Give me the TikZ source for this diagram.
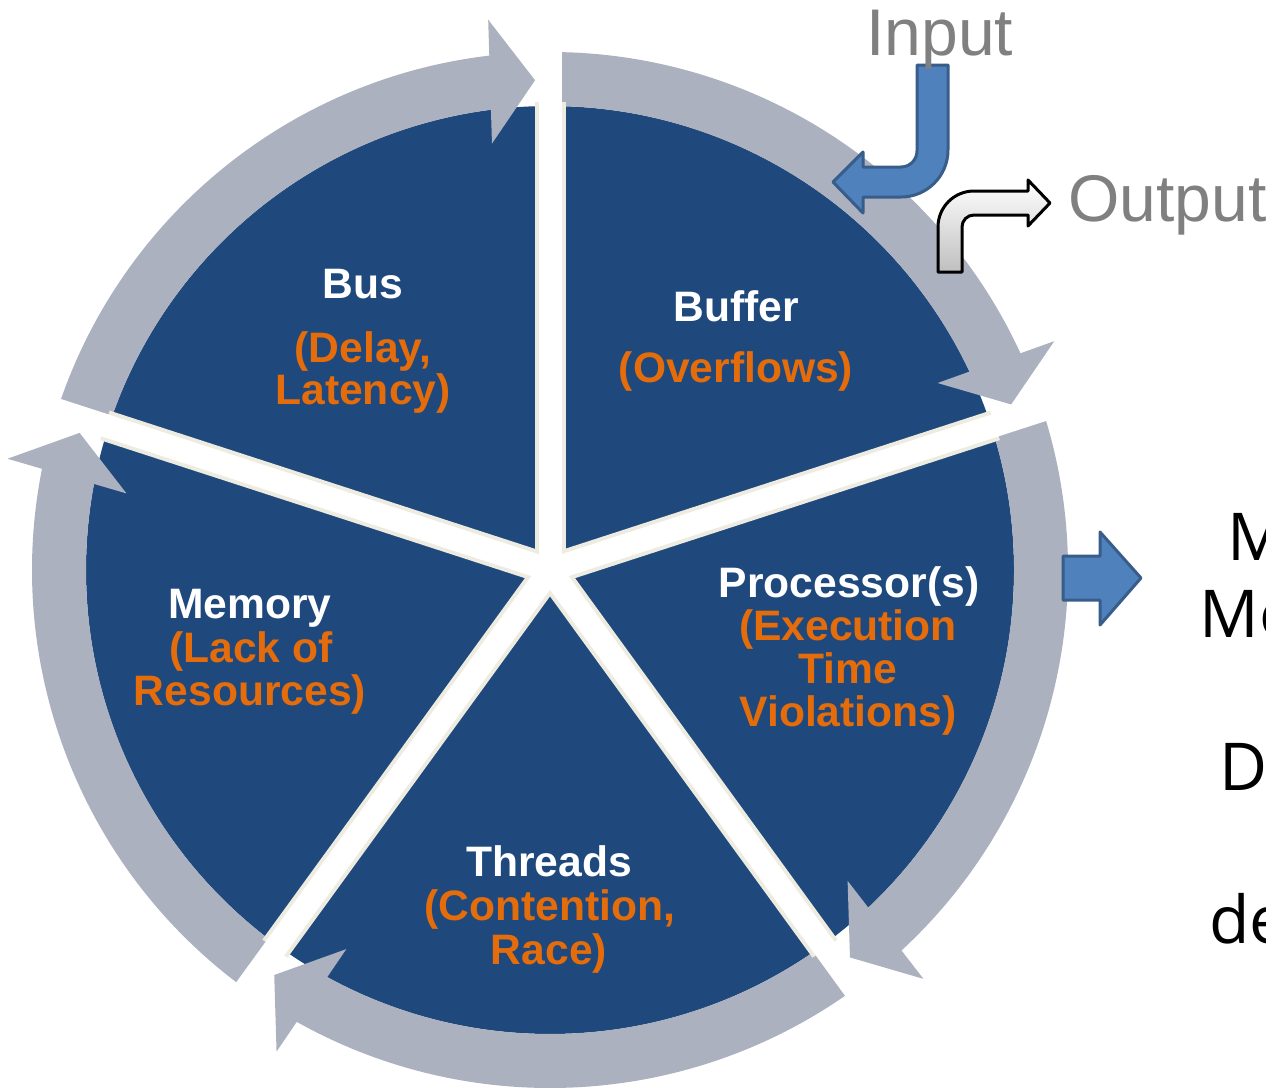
\documentclass[tikz,border=0pt]{standalone}
\usepackage{fontspec}
\setmainfont{Liberation Sans}
\newfontfamily\sidefont{Open Sans}
\definecolor{secblue}{HTML}{1F497D}
\definecolor{ringgray}{HTML}{ACB1C0}
\definecolor{gapbeige}{HTML}{EEECE1}
\definecolor{accent}{HTML}{E46C0A}
\definecolor{labelgray}{HTML}{808080}
\definecolor{arrowblue}{HTML}{4F81BD}
\definecolor{arrowedge}{HTML}{385D8A}
\tikzset{
  ringfill/.style={fill=ringgray},
  ttl/.style={text=white, font=\fontsize{21.3}{22}\selectfont\bfseries, anchor=base, inner sep=0pt},
  sub/.style={text=accent, font=\fontsize{21.3}{22}\selectfont\bfseries, anchor=base, inner sep=0pt},
  iolabel/.style={text=labelgray, font=\fontsize{33}{36}\selectfont, anchor=base west, inner sep=0pt},
  sidetext/.style={text=black, font=\sidefont\fontsize{33}{36}\selectfont, anchor=base west, inner sep=0pt},
  bluearrow/.style={fill=arrowblue, draw=arrowedge, line width=1.5pt, line join=round},
}
\begin{document}
\begin{tikzpicture}[x=0.5pt, y=-0.5pt]
\useasboundingbox (0,0) rectangle (1266,1088);

% pie of five sectors with the clockwise ring arrows
\begin{scope}[shift={(550,570)}, yscale=-1]
  \coordinate (c) at (0,0);
  \fill[secblue] (c) circle (464);
  \foreach \a/\t in {162/91.75, 90/19.75, 18/-52.25, -54/-124.25, 234/163.75} {
    \fill[ringfill] (\a:464) arc[start angle=\a, end angle=\t+3, radius=464]
      -- (\t+3:518) arc[start angle=\t+3, end angle=\a, radius=518] -- cycle;
    \fill[ringfill] (\t:490) -- (\t+6.0:430.4) -- (\t+4.66:553.8) -- cycle;
  }
  \foreach \g in {90,18,-54,-126,162}
    \draw[gapbeige, line width=15.5pt] (c) -- (\g:468);
  \foreach \g in {90,18,-54,-126,162}
    \draw[white, line width=11.5pt] (c) -- (\g:640);
\end{scope}

% sector labels
\node[ttl] (busT) at (363,298) {Bus};
\node[sub] (busS1) at (363,362) {(Delay,};
\node[sub] (busS2) at (363,404) {Latency)};
\node[ttl] (bufT) at (736,321) {Buffer};
\node[sub] (bufS) at (736,382) {(Overflows)};
\node[ttl] (procT) at (849,597) {Processor(s)};
\node[sub] (procS1) at (848,640) {(Execution};
\node[sub] (procS2) at (848,683) {Time};
\node[sub] (procS3) at (848,726) {Violations)};
\node[ttl] (memT) at (250,618) {Memory};
\node[sub] (memS1) at (251,662) {(Lack of};
\node[sub] (memS2) at (250,705) {Resources)};
\node[ttl] (thrT) at (549,876) {Threads};
\node[sub] (thrS1) at (550,920) {(Contention,};
\node[sub] (thrS2) at (549,964) {Race)};

% input: bent arrow into the buffer
\draw[bluearrow] (917,65) -- (948,65) -- (948,150)
  arc[start angle=0, end angle=90, radius=47]
  -- (863,197) -- (863,213) -- (833,182) -- (863,152) -- (863,167) -- (901,167)
  arc[start angle=90, end angle=0, radius=16] -- cycle;
\node[iolabel] (inlbl) at (866,55) {Input};

% output: bent arrow out of the buffer
\draw[black, line width=1.5pt, line join=round, top color=white, bottom color=black!25]
  (938,272) -- (938,227) arc[start angle=180, end angle=270, radius=36]
  -- (1028,191) -- (1028,180) -- (1050,203) -- (1028,226) -- (1028,215) -- (974,215)
  arc[start angle=270, end angle=180, radius=12] -- (962,272) -- cycle;
\node[iolabel] (outlbl) at (1068,221) {Output};

% block arrow to the right
\draw[bluearrow] (1063,556) -- (1100,556) -- (1100,532) -- (1141,578)
  -- (1100,625) -- (1100,600) -- (1063,600) -- cycle;

% text on the right
\node[sidetext] (side1) at (1227,560) {M};
\node[sidetext] (side2) at (1199,637) {Mo};
\node[sidetext] (side3) at (1219,790) {D};
\node[sidetext] (side4) at (1209,943) {de};
\end{tikzpicture}
\end{document}
